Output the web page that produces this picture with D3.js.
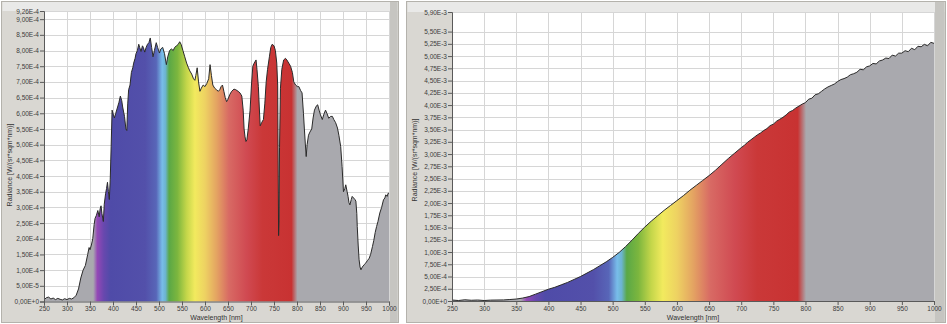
<!DOCTYPE html>
<html lang="en">
<head>
	<meta charset="UTF-8">
	<title>Radiance spectra</title>
	<script src="https://d3js.org/d3.v7.min.js"></script>
	<style>
		body{
			margin: 0;
			background: #fff;
			font-family: "Liberation Sans", Arial, sans-serif;
		}
		svg{
			display: block;
		}
		.tick text{
			font-size: 6.5px;
			fill: #3c3c3c;
		}
		.axis-title{
			font-size: 7px;
			fill: #333;
		}
	</style>
</head>
<body>
	<div id="chart"></div>
	<script>
		// wavelength ticks, shared by both panels
		var xTicks = [250,300,350,400,450,500,550,600,650,700,750,800,850,900,950,1000];

		// left panel: sun spectrum, radiance in units of 1E-4
		var sunWl = [250,255,260,265,270,275,280,285,290,295,300,305,310,315,320,325,330,335,340,345,
			348,350,353,356,359,361,364,367,370,372,374,376,379,381,384,386,388,390,392,394,
			396,398,401,403,406,410,413,416,419,421,425,428,430,432,434,437,440,443,445,448,
			450,453,456,458,461,464,466,469,472,475,478,481,484,487,490,494,497,501,504,508,
			512,516,519,523,527,531,534,538,542,545,548,552,556,560,564,567,571,575,578,580,
			583,586,589,592,596,600,604,608,611,614,617,621,625,629,632,635,638,641,644,647,
			650,654,658,663,667,672,676,680,683,685,687,689,691,694,698,701,704,707,711,713,
			716,718,720,723,727,730,733,736,740,743,746,750,753,756,758,759,760,761,762,764,
			767,771,775,778,782,786,790,793,797,801,804,808,811,814,816,818,820,822,825,828,
			832,835,838,841,843,845,848,851,855,858,862,865,869,873,877,880,884,888,891,895,
			898,901,904,906,909,911,913,915,918,920,923,926,928,930,931,933,935,937,939,942,
			946,949,953,957,960,964,967,970,973,976,980,984,988,991,993,996,998,1000];
		var sunRad = [0.05,0.12,0.14,0.08,0.11,0.06,0.1,0.07,0.05,0.09,0.06,0.1,0.08,0.12,0.2,0.4,0.75,1.0,1.15,1.5,
			1.72,1.65,1.8,2.0,2.45,2.65,2.75,2.9,2.7,2.95,3.05,2.8,2.55,3.1,3.45,3.6,3.8,3.5,3.25,3.9,
			4.95,6.1,5.95,5.85,6.0,6.2,6.35,6.55,6.4,6.2,5.9,5.5,5.45,6.3,6.75,6.9,7.3,7.45,7.6,7.75,
			7.9,8.0,8.2,8.1,7.97,8.15,8.1,7.95,8.1,8.2,8.25,8.4,8.1,7.8,8.0,8.25,8.1,7.92,8.05,8.1,
			7.9,7.55,7.8,8.0,8.05,8.0,8.1,8.15,8.2,8.28,8.2,8.0,7.8,7.6,7.45,7.35,7.25,7.1,7.05,7.2,
			7.45,7.0,6.7,6.8,6.9,6.85,6.95,7.1,7.55,7.2,6.9,6.8,6.75,6.7,6.75,6.85,6.9,6.7,6.5,6.37,
			6.45,6.6,6.7,6.77,6.75,6.7,6.65,6.55,6.1,5.5,5.25,5.1,5.15,5.5,6.1,6.9,7.5,7.6,7.7,7.4,
			6.85,6.2,5.6,5.7,5.8,6.3,7.0,7.4,7.8,8.1,8.2,8.15,8.0,7.6,6.9,4.5,2.1,2.6,4.9,6.8,
			7.4,7.7,7.75,7.7,7.6,7.5,7.3,7.0,6.9,6.85,6.85,6.72,6.65,6.0,5.5,5.05,4.62,5.0,5.3,5.4,
			5.5,5.85,6.1,6.2,6.25,6.27,6.1,5.95,5.8,5.95,6.1,6.0,5.84,5.9,5.9,5.8,5.7,5.53,5.3,4.94,
			4.3,3.5,3.6,3.72,3.5,3.35,3.15,3.08,3.25,3.35,3.3,3.25,3.2,2.8,2.39,1.8,1.33,1.1,1.01,1.1,
			1.17,1.22,1.3,1.38,1.5,1.75,1.95,2.2,2.39,2.55,2.82,3.0,3.24,3.3,3.4,3.35,3.45,3.45];
		var sunYTicks = [0,0.5,1,1.5,2,2.5,3,3.5,4,4.5,5,5.5,6,6.5,7,7.5,8,8.5,9,9.26];
		var sunYLabels = ["0,00E+0","5,00E-5","1,00E-4","1,50E-4","2,00E-4","2,50E-4","3,00E-4","3,50E-4",
			"4,00E-4","4,50E-4","5,00E-4","5,50E-4","6,00E-4","6,50E-4","7,00E-4","7,50E-4","8,00E-4",
			"8,50E-4","9,00E-4","9,26E-4"];

		// right panel: lamp spectrum, radiance in units of 1E-3
		var lampWl = [250,260,270,280,290,300,310,320,330,340,350,360,370,380,390,400,410,420,430,440,
			450,460,470,480,490,500,510,520,530,540,550,560,570,580,590,600,610,620,630,640,
			650,660,670,680,690,700,705,710,715,720,725,730,735,740,745,750,755,760,765,770,
			775,780,785,790,795,800,805,810,815,820,825,830,835,840,845,850,855,860,865,870,
			875,880,885,890,895,900,905,910,915,920,925,930,935,940,945,950,955,960,965,970,
			975,980,985,990,995,1000];
		var lampRad = [0.02,0.01,0.025,0.015,0.02,0.01,0.018,0.02,0.022,0.03,0.04,0.06,0.09,0.14,0.19,0.24,0.28,0.33,0.38,0.44,
			0.5,0.57,0.64,0.72,0.8,0.89,0.99,1.11,1.24,1.38,1.51,1.63,1.74,1.85,1.95,2.05,2.15,2.26,2.36,2.46,
			2.56,2.67,2.79,2.91,3.02,3.13,3.18,3.24,3.29,3.34,3.39,3.43,3.48,3.52,3.58,3.61,3.67,3.71,3.75,3.8,
			3.86,3.89,3.94,3.98,4.02,4.05,4.12,4.14,4.21,4.23,4.28,4.33,4.37,4.4,4.43,4.48,4.52,4.54,4.57,4.62,
			4.64,4.67,4.73,4.72,4.78,4.8,4.85,4.84,4.9,4.92,4.96,4.95,5.02,5.0,5.06,5.06,5.11,5.09,5.16,5.13,
			5.2,5.19,5.24,5.21,5.28,5.26];
		var lampYTicks = [0,0.25,0.5,0.75,1,1.25,1.5,1.75,2,2.25,2.5,2.75,3,3.25,3.5,3.75,4,4.25,4.5,4.75,5,5.25,5.5,5.9];
		var lampYLabels = ["0,00E+0","2,50E-4","5,00E-4","7,50E-4","1,00E-3","1,25E-3","1,50E-3","1,75E-3",
			"2,00E-3","2,25E-3","2,50E-3","2,75E-3","3,00E-3","3,25E-3","3,50E-3","3,75E-3","4,00E-3",
			"4,25E-3","4,50E-3","4,75E-3","5,00E-3","5,25E-3","5,50E-3","5,90E-3"];

		// colour of the fill along the wavelength axis
		var spectrum = [[250,'#a9a9ae'],[357,'#a9a9ae'],[366,'#9448b6'],[380,'#6848ae'],[395,'#4f4ba8'],
			[470,'#5350aa'],[494,'#5866b8'],[507,'#78bdea'],[514,'#6cb4d0'],[522,'#5aa846'],
			[540,'#7cb63e'],[560,'#c4d64a'],[578,'#f2ea5e'],[600,'#eed262'],[625,'#e4a462'],
			[652,'#d86a64'],[690,'#d04a52'],[725,'#ca3838'],[788,'#c83232'],[801,'#a9a9ae'],[1000,'#a9a9ae']];

		var svg = d3.select('#chart').append('svg')
			.attr('width', 947)
			.attr('height', 324);
		var defs = svg.append('defs');

		function drawPanel(cfg){
			var g = svg.append('g');

			// window frame
			g.append('rect')
				.attr('x', cfg.fx0).attr('y', 1.5)
				.attr('width', cfg.fx1 - cfg.fx0).attr('height', 321)
				.attr('fill', '#d9d7d2')
				.attr('stroke', '#b4b2ac');
			g.append('rect')
				.attr('x', cfg.fx0 + 1).attr('y', 2)
				.attr('width', cfg.fx1 - cfg.fx0 - 2).attr('height', cfg.t - 2)
				.attr('fill', '#e9e9e8');
			g.append('rect')
				.attr('x', cfg.r + 1).attr('y', 2)
				.attr('width', cfg.fx1 - cfg.r - 2).attr('height', 320)
				.attr('fill', '#c6c5c1');

			var x = d3.scaleLinear().domain([250, 1000]).range([cfg.l, cfg.r]);
			var y = d3.scaleLinear().domain([0, cfg.yMax]).range([cfg.b, cfg.t]);

			g.append('rect')
				.attr('x', cfg.l).attr('y', cfg.t)
				.attr('width', cfg.r - cfg.l).attr('height', cfg.b - cfg.t)
				.attr('fill', '#fff');

			// grid
			g.selectAll('.vgrid').data(xTicks).enter().append('line')
				.attr('x1', function(d){ return Math.round(x(d)) + 0.5; })
				.attr('x2', function(d){ return Math.round(x(d)) + 0.5; })
				.attr('y1', cfg.t).attr('y2', cfg.b)
				.attr('stroke', '#d6d6d6');
			g.selectAll('.hgrid').data(cfg.yTicks).enter().append('line')
				.attr('x1', cfg.l).attr('x2', cfg.r)
				.attr('y1', function(d){ return Math.round(y(d)) + 0.5; })
				.attr('y2', function(d){ return Math.round(y(d)) + 0.5; })
				.attr('stroke', '#d6d6d6');

			// spectrum gradient
			var grad = defs.append('linearGradient')
				.attr('id', cfg.id)
				.attr('gradientUnits', 'userSpaceOnUse')
				.attr('x1', x(250)).attr('x2', x(1000))
				.attr('y1', 0).attr('y2', 0);
			grad.selectAll('stop').data(spectrum).enter().append('stop')
				.attr('offset', function(d){ return (d[0] - 250) / 750; })
				.attr('stop-color', function(d){ return d[1]; });

			var pts = cfg.wl.map(function(w, i){ return [w, cfg.rad[i]]; });
			var area = d3.area()
				.x(function(d){ return x(d[0]); })
				.y0(y(0))
				.y1(function(d){ return y(d[1]); });
			var line = d3.line()
				.x(function(d){ return x(d[0]); })
				.y(function(d){ return y(d[1]); });

			g.append('path').datum(pts)
				.attr('d', area)
				.attr('fill', 'url(#' + cfg.id + ')');
			g.append('path').datum(pts)
				.attr('d', line)
				.attr('fill', 'none')
				.attr('stroke', '#2a2a2a')
				.attr('stroke-width', 1);

			// axes
			var yAxis = d3.axisLeft(y)
				.tickValues(cfg.yTicks)
				.tickFormat(function(d, i){ return cfg.yLabels[i]; })
				.tickSize(4)
				.tickPadding(1);
			var xAxis = d3.axisBottom(x)
				.tickValues(xTicks)
				.tickFormat(d3.format('d'))
				.tickSize(4)
				.tickPadding(1);

			var ya = g.append('g')
				.attr('transform', 'translate(' + cfg.l + ',0)')
				.call(yAxis);
			var xa = g.append('g')
				.attr('transform', 'translate(0,' + cfg.b + ')')
				.call(xAxis);
			[ya, xa].forEach(function(a){
				a.attr('font-family', null).attr('font-size', null);
				a.select('.domain').attr('stroke', '#5a5a5a');
				a.selectAll('.tick line').attr('stroke', '#5a5a5a');
			});

			g.append('text')
				.attr('class', 'axis-title')
				.attr('text-anchor', 'middle')
				.attr('x', (cfg.l + cfg.r) / 2)
				.attr('y', 320)
				.text('Wavelength [nm]');
			g.append('text')
				.attr('class', 'axis-title')
				.attr('text-anchor', 'middle')
				.attr('transform', 'translate(' + cfg.titleX + ',' + cfg.titleY + ') rotate(-90)')
				.text('Radiance [W/(sr*sqm*nm)]');
		}

		drawPanel({id: 'specLeft', fx0: 1.5, fx1: 398.5, l: 44, r: 389, t: 11, b: 301.5,
			yMax: 9.26, wl: sunWl, rad: sunRad, yTicks: sunYTicks, yLabels: sunYLabels,
			titleX: 12, titleY: 165});
		drawPanel({id: 'specRight', fx0: 406.5, fx1: 945.5, l: 452, r: 934, t: 12, b: 301,
			yMax: 5.9, wl: lampWl, rad: lampRad, yTicks: lampYTicks, yLabels: lampYLabels,
			titleX: 417, titleY: 160});
	</script>
</body>
</html>
